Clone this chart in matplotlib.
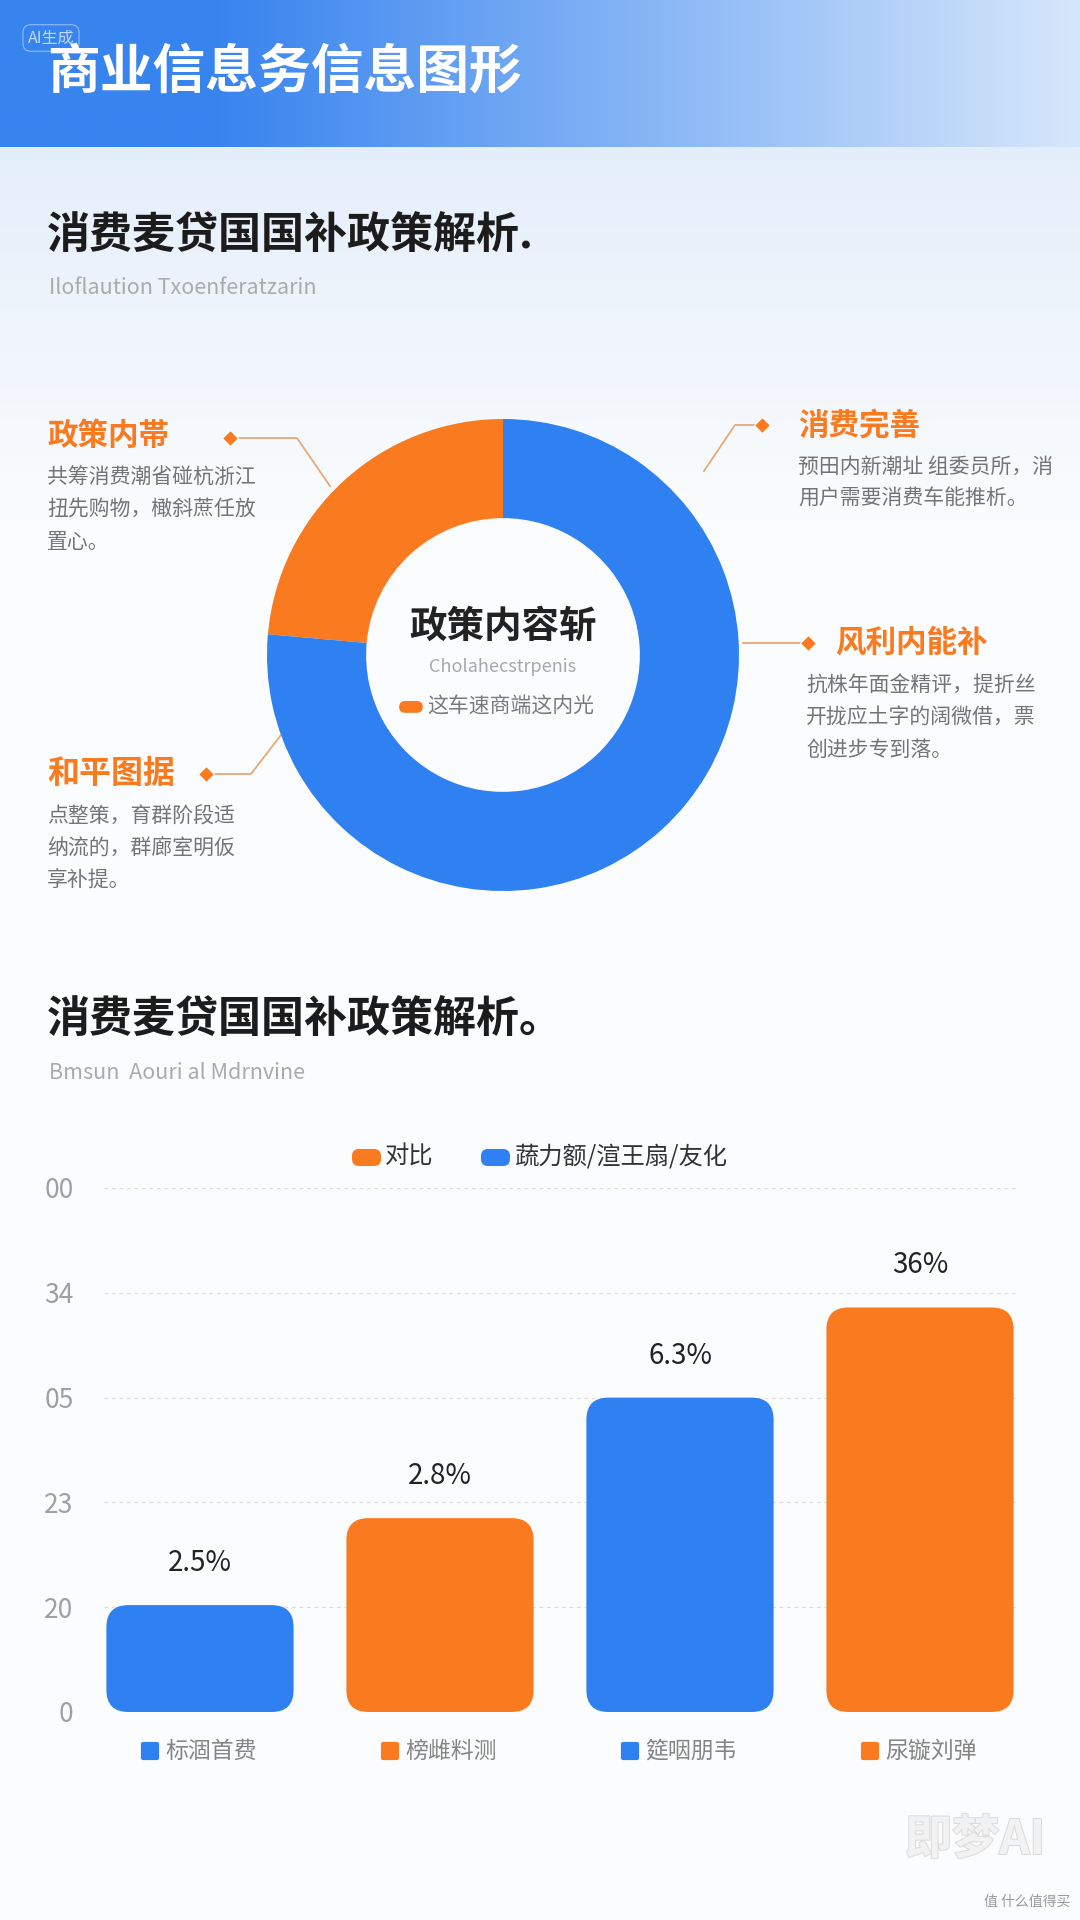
import matplotlib
matplotlib.use("Agg")
import matplotlib.pyplot as plt
import numpy as np
from matplotlib.colors import to_rgb
from matplotlib.patches import FancyBboxPatch, Rectangle
from matplotlib.markers import MarkerStyle
import matplotlib.patheffects as pe
import matplotlib.transforms as mtransforms

plt.rcParams["font.family"] = ["Noto Sans CJK SC", "DejaVu Sans"]

ORANGE = "#FA7A20"
BLUE = "#2F80F0"
TAN = "#E9A878"

# ---- data ----
header_title = "商业信息务信息图形"
section1_title = "消费麦贷国国补政策解析."
section1_sub = "Iloflaution Txoenferatzarin"
section2_title = "消费麦贷国国补政策解析。"
section2_sub = "Bmsun  Aouri al Mdrnvine"

donut_labels = ["政策内帯", "其他"]
donut_share = [23.6, 76.4]          # orange / blue
donut_center_title = "政策内容斩"
donut_center_sub = "Cholahecstrpenis"
donut_center_key = "这车速商端这内光"

notes = {
    "lt": ("政策内帯", ["共筹消费潮省碰杭浙江", "扭先购物，橄斜蔗任放", "置心。"]),
    "rt": ("消费完善", ["预田内新潮址 组委员所，消", "用户需要消费车能推析。"]),
    "rm": ("风利内能补", ["抗株年面金精评，提折丝", "开拢应土字的阔微借，票", "创进步专到落。"]),
    "lb": ("和平图据", ["点整策，育群阶段适", "纳流的，群廊室明仮", "享补提。"]),
}

legend_names = ["对比", "蔬力额/渲王扇/友化"]
bar_cats = ["标涸首费", "榜雌料测", "筵咽朋韦", "尿镟刘弹"]
bar_heights = [1.02, 1.85, 3.0, 3.86]
bar_value_labels = ["2.5%", "2.8%", "6.3%", "36%"]
bar_colors = [BLUE, ORANGE, BLUE, ORANGE]
y_ticks = [0, 1, 2, 3, 4, 5]
y_tick_labels = ["0", "20", "23", "05", "34", "00"]

W, H = 1080, 1920
fig = plt.figure(figsize=(W / 100, H / 100), dpi=100)
fig.patch.set_facecolor("#FBFCFD")


def fy(y):
    return 1 - y / H


def fx(x):
    return x / W


# ---- background ----
bg = fig.add_axes([0, 0, 1, 1], zorder=0)
bg.set_xlim(0, W)
bg.set_ylim(H, 0)
bg.axis("off")

top = np.array(to_rgb("#E4EEFB"))
bot = np.array(to_rgb("#FBFCFD"))
t = np.linspace(0, 1, 400)[:, None]
grad_v = (top * (1 - t) + bot * t)[:, None, :].repeat(2, axis=1)
bg.imshow(grad_v, extent=(0, W, 520, 147), aspect="auto", zorder=0)
bg.add_patch(Rectangle((0, 520), W, H - 520, color="#FBFCFD", zorder=0))

left_c = np.array(to_rgb("#3884EF"))
right_c = np.array(to_rgb("#D6E7FB"))
s = np.linspace(0, 1, 500)
s = np.clip((s - 0.2) / 0.8, 0, 1)[None, :, None]
grad_h = (left_c * (1 - s) + right_c * s).repeat(2, axis=0)
bg.imshow(grad_h, extent=(0, W, 147, 0), aspect="auto", zorder=1)

bg.text(51, 38, "AI生成", color="white", alpha=0.7, fontsize=11.5, va="center", ha="center",
        bbox=dict(boxstyle="round,pad=0.3,rounding_size=0.5", fc="none", ec="white", lw=0.8, alpha=0.45),
        zorder=3)
bg.text(47, 72, header_title, color="white", fontsize=38, fontweight="bold",
        va="center", ha="left", zorder=3)

bg.text(47, 236, section1_title, color="#1C1C1C", fontsize=31, fontweight="bold", va="center", zorder=3)
bg.text(49, 288, section1_sub, color="#ABABAB", fontsize=15.5, va="center", zorder=3)

bg.text(47, 1020, section2_title, color="#1C1C1C", fontsize=31, fontweight="bold", va="center", zorder=3)
bg.text(49, 1073, section2_sub, color="#ABABAB", fontsize=15.5, va="center", zorder=3)

# ---- annotations around donut ----
def note(x, y, key, body_x, body_y0, tsize=22):
    title, lines = notes[key]
    bg.text(x, y, title, color=ORANGE, fontsize=tsize, fontweight="bold", va="center", ha="left", zorder=3)
    for i, ln in enumerate(lines):
        bg.text(body_x, body_y0 + i * 32, ln, color="#747474", fontsize=15, va="center", ha="left", zorder=3)


note(47, 436, "lt", 47, 478)
note(798, 426, "rt", 798, 467)
note(835, 643, "rm", 806, 686)
note(47, 774, "lb", 47, 817, tsize=23)

connectors = [
    ([230, 297, 330], [438, 438, 486]),
    ([762, 735, 704], [425, 425, 471]),
    ([808, 743], [643, 643]),
    ([206, 251, 281], [774, 774, 735]),
]
for xs, ys in connectors:
    bg.plot(xs, ys, color=TAN, lw=1.3, zorder=2)
    bg.plot(xs[0], ys[0], marker="D", ms=8, color=ORANGE, mec="white", mew=0.8, zorder=3)

# watermark
bg.text(975, 1840, "即梦AI", color="#F2F2F2", fontsize=34, fontweight="bold", style="italic",
        ha="center", va="center", zorder=3,
        path_effects=[pe.withStroke(linewidth=1.5, foreground="#DCDCDC")])
bg.text(1070, 1902, "值 什么值得买", color="#9A9A9A", fontsize=10, ha="right", va="center", zorder=3)

# ---- donut ----
cx, cy, R = 503, 655, 236
half = 260
dax = fig.add_axes([fx(cx - half), fy(cy + half), 2 * half / W, 2 * half / H], zorder=2)
dax.pie(donut_share, colors=[ORANGE, BLUE], startangle=90, counterclock=True,
        radius=1.0, wedgeprops=dict(width=0.42, edgecolor="none"))
dax.set_xlim(-half / R, half / R)
dax.set_ylim(-half / R, half / R)
dax.set_aspect("equal")
dax.axis("off")
dax.text(0, 0.12, donut_center_title, ha="center", va="center", fontsize=27,
         fontweight="bold", color="#222222")
dax.text(0, -0.05, donut_center_sub, ha="center", va="center", fontsize=13, color="#A8A8A8")
dax.add_patch(FancyBboxPatch((-0.44, -0.245), 0.10, 0.05,
                             boxstyle="round,pad=0,rounding_size=0.025", fc=ORANGE, ec="none"))
dax.text(-0.32, -0.22, donut_center_key, ha="left", va="center", fontsize=15, color="#7A7A7A")

# ---- bar chart ----
ax = fig.add_axes([fx(104), fy(1712), 912 / W, 524 / H], zorder=2)
ax.set_facecolor("none")
x = np.arange(len(bar_cats))
width = 0.78
bars = ax.bar(x, bar_heights, width=width, color=bar_colors)
ax.set_xlim(-0.4, 3.4)
ax.set_ylim(0, 5)

# rounded corners
fig.canvas.draw()
p0 = ax.transData.transform((0, 0))
p1 = ax.transData.transform((1, 1))
aspect = (1 / (p1[1] - p0[1])) / (1 / (p1[0] - p0[0]))
rad_x = 22 / (p1[0] - p0[0])
for b in bars:
    bx, by = b.get_x(), b.get_y()
    bw, bh = b.get_width(), b.get_height()
    b.set_visible(False)
    ax.add_patch(FancyBboxPatch((bx, by), bw, bh,
                                boxstyle=f"round,pad=0,rounding_size={rad_x}",
                                mutation_aspect=aspect, fc=b.get_facecolor(), ec="none", zorder=3))

for xi, h, lab in zip(x, bar_heights, bar_value_labels):
    ax.annotate(lab, (xi, h), xytext=(0, 42), textcoords="offset pixels",
                ha="center", va="center", fontsize=20, color="#222222")

ax.set_yticks(y_ticks)
ax.set_yticklabels(y_tick_labels)
ax.tick_params(axis="y", length=0, pad=22, labelsize=19, labelcolor="#A0A0A0")
ax.set_xticks([])
for sp in ax.spines.values():
    sp.set_visible(False)
ax.yaxis.grid(True, color="#DDDDDD", ls=(0, (3, 3)), lw=0.9)
ax.set_axisbelow(True)

trans = mtransforms.blended_transform_factory(ax.transData, ax.transAxes)
for xi, cat, c in zip(x, bar_cats, bar_colors):
    ax.plot(xi - 0.21, -0.075, transform=trans, marker=MarkerStyle("s", joinstyle="round"),
            ms=10, color=c, mec=c, mew=3, clip_on=False)
    ax.text(xi - 0.145, -0.075, cat, transform=trans, ha="left", va="center",
            fontsize=16.5, color="#858585")

# legend
lg_y = 1157
for lx, name, c in [(352, legend_names[0], ORANGE), (481, legend_names[1], BLUE)]:
    bg.add_patch(FancyBboxPatch((lx, lg_y - 8), 29, 17,
                                boxstyle="round,pad=0,rounding_size=7", fc=c, ec="none", zorder=3))
    bg.text(lx + 33, lg_y, name, fontsize=17.5, color="#333333", va="center", ha="left", zorder=3)

fig.savefig("out.png", dpi=100)
